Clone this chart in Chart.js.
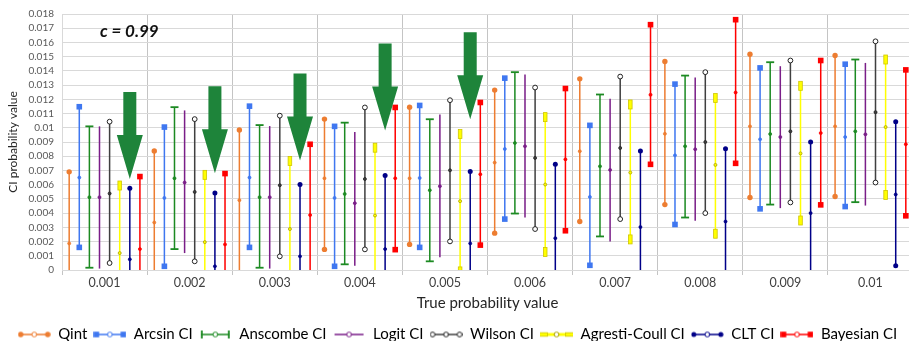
<!DOCTYPE html>
<html>
<head>
<meta charset="utf-8">
<script src="https://cdn.jsdelivr.net/npm/chart.js@4.4.1/dist/chart.umd.min.js"></script>
<style>
  html, body { margin: 0; padding: 0; background: #fff; overflow: hidden; }
  #wrap { width: 914px; height: 352px; position: relative; }
</style>
</head>
<body>
<div id="wrap"><canvas id="ci"></canvas></div>
<script>
// CI 비교 차트 (c = 0.99) — 구간은 floating bar, 끝점/중앙점 마커는 플러그인이 그림

const CATEGORIES = ["0.001", "0.002", "0.003", "0.004", "0.005", "0.006", "0.007", "0.008", "0.009", "0.01"];
const Y_TICK_STEP = 0.001;
const Y_MAX = 0.018;

// 각 방법별 하한 / 중앙 / 상한 (그림에서 읽은 값, 0 아래는 잘려서 안 보임)
const qintLo = [-0.0005, -0.0005, -0.0003, 0.00145, 0.0018, 0.00259, 0.00341, 0.0046, 0.0051, 0.00517];
const qintMid = [0.00187, 0.00334, 0.00491, 0.00645, 0.00645, 0.00755, 0.00835, 0.00958, 0.0101, 0.0101];
const qintHi = [0.0069, 0.00837, 0.00984, 0.01061, 0.01145, 0.01265, 0.01344, 0.01466, 0.01517, 0.01508];

const arcsinLo = [0.00159, 0.00026, 0.00159, 0.00026, 0.00159, 0.00358, 0.00033, 0.0032, 0.0043, 0.00446];
const arcsinMid = [0.0065, 0.00507, 0.0065, 0.00507, 0.00647, 0.00851, 0.00514, 0.00806, 0.00919, 0.00935];
const arcsinHi = [0.01148, 0.01005, 0.01152, 0.0101, 0.01157, 0.01349, 0.01017, 0.01307, 0.01421, 0.01447];

const anscombeLo = [0.00016, 0.00147, 0.00016, 0.0004, 0.00061, 0.00397, 0.00236, 0.00369, 0.0046, 0.00477];
const anscombeMid = [0.00512, 0.00645, 0.00512, 0.00535, 0.00561, 0.00893, 0.00729, 0.0087, 0.00956, 0.00975];
const anscombeHi = [0.0101, 0.01145, 0.01019, 0.01036, 0.0106, 0.01391, 0.01234, 0.01367, 0.01461, 0.0148];

const logitLo = [0.0001, 0.00119, 0.0001, 0.0003, 0.00089, 0.00369, 0.00201, 0.00346, 0.00435, 0.00453];
const logitMid = [0.00512, 0.00615, 0.00512, 0.0047, 0.00589, 0.0087, 0.00704, 0.00849, 0.00935, 0.00954];
const logitHi = [0.0101, 0.01122, 0.01012, 0.0097, 0.01094, 0.01374, 0.01204, 0.01353, 0.01433, 0.01456];

const wilsonLo = [0.00049, 0.00061, 0.00096, 0.00145, 0.00201, 0.00288, 0.00358, 0.004, 0.00475, 0.00615];
const wilsonMid = [0.00538, 0.00549, 0.00596, 0.0064, 0.00701, 0.00788, 0.00858, 0.009, 0.00975, 0.0111];
const wilsonHi = [0.01043, 0.01061, 0.01085, 0.01143, 0.01194, 0.01283, 0.0136, 0.01391, 0.01473, 0.01608];

const agrestiLo = [-0.00356, -0.00277, -0.00191, -0.00094, -0.0001, 0.00126, 0.00215, 0.00255, 0.00348, 0.00528];
const agrestiMid = [0.00119, 0.00196, 0.00288, 0.00383, 0.00484, 0.00601, 0.00685, 0.00739, 0.0082, 0.01005];
const agrestiHi = [0.00594, 0.00669, 0.00767, 0.0086, 0.00956, 0.01075, 0.01164, 0.01209, 0.01295, 0.0148];

const cltLo = [-0.00425, -0.0049, -0.0041, -0.0037, -0.0032, -0.003, -0.0023, -0.0017, -0.001, 0.0003];
const cltMid = [0.00075, 0.00026, 0.00096, 0.00147, 0.00187, 0.00224, 0.00302, 0.00341, 0.004, 0.00531];
const cltHi = [0.00575, 0.00542, 0.00601, 0.00664, 0.00692, 0.00743, 0.00837, 0.00853, 0.009, 0.01043];

const bayesLo = [-0.0002, -0.0002, -0.0002, 0.00143, 0.00175, 0.00276, 0.00743, 0.0075, 0.00458, 0.00381];
const bayesMid = [0.00147, 0.0018, 0.00386, 0.00645, 0.00673, 0.00778, 0.01232, 0.01248, 0.00963, 0.00884];
const bayesHi = [0.00657, 0.00678, 0.00884, 0.01143, 0.01178, 0.01276, 0.01725, 0.0176, 0.01473, 0.01407];

// 화살표 (CLT 구간 위를 가리킴)
const ARROW_CATS = ["0.001", "0.002", "0.003", "0.004", "0.005"];
const ARROW_TIPS = [0.0064, 0.0068, 0.0077, 0.0098, 0.0106];

const SERIES = [
  { label: "Qint", lo: qintLo, mid: qintMid, hi: qintHi, color: "#ED7D31", end: "circle" },
  { label: "Arcsin CI", lo: arcsinLo, mid: arcsinMid, hi: arcsinHi, color: "#3F77F0", end: "square" },
  { label: "Anscombe CI", lo: anscombeLo, mid: anscombeMid, hi: anscombeHi, color: "#1C8A22", end: "cap" },
  { label: "Logit CI", lo: logitLo, mid: logitMid, hi: logitHi, color: "#7A1E88", end: "none" },
  { label: "Wilson CI", lo: wilsonLo, mid: wilsonMid, hi: wilsonHi, color: "#404040", end: "open" },
  { label: "Agresti-Coull CI", lo: agrestiLo, mid: agrestiMid, hi: agrestiHi, color: "#FFFF00", end: "rect" },
  { label: "CLT CI", lo: cltLo, mid: cltMid, hi: cltHi, color: "#000088", end: "dot" },
  { label: "Bayesian CI", lo: bayesLo, mid: bayesMid, hi: bayesHi, color: "#FF0000", end: "square" },
];
const CLT_INDEX = 6;

const FONT = "Lato, 'Open Sans', sans-serif";

// ---------- 마커 ----------
function drawEnd(g, s, x, y, horiz) {
  g.save();
  switch (s.end) {
    case "circle":
      g.fillStyle = s.color;
      g.beginPath(); g.arc(x, y, 2.7, 0, Math.PI * 2); g.fill();
      break;
    case "dot":
      g.fillStyle = s.color;
      g.beginPath(); g.arc(x, y, 2.5, 0, Math.PI * 2); g.fill();
      break;
    case "square":
      g.fillStyle = s.color;
      g.fillRect(x - 2.8, y - 2.8, 5.6, 5.6);
      break;
    case "open":
      g.fillStyle = "#fff"; g.strokeStyle = "#222"; g.lineWidth = 1;
      g.beginPath(); g.arc(x, y, 2.4, 0, Math.PI * 2); g.fill(); g.stroke();
      break;
    case "cap":
      g.strokeStyle = s.color; g.lineWidth = 1.8;
      g.beginPath();
      if (horiz) { g.moveTo(x, y - 4); g.lineTo(x, y + 4); }
      else { g.moveTo(x - 4, y); g.lineTo(x + 4, y); }
      g.stroke();
      break;
    case "rect":
      g.fillStyle = s.color; g.strokeStyle = "#CFC600"; g.lineWidth = 0.8;
      if (horiz) { g.fillRect(x - 4.5, y - 1.8, 9, 3.6); g.strokeRect(x - 4.5, y - 1.8, 9, 3.6); }
      else { g.fillRect(x - 1.8, y - 4.5, 3.6, 9); g.strokeRect(x - 1.8, y - 4.5, 3.6, 9); }
      break;
  }
  g.restore();
}

function drawMid(g, s, x, y, big) {
  g.save();
  const dark = s.end === "rect" ? "#A8A000" : (s.end === "open" ? "#222" : s.color);
  g.fillStyle = big ? "#fff" : s.color;
  g.strokeStyle = dark;
  g.lineWidth = big ? 1 : 0.8;
  g.beginPath(); g.arc(x, y, big ? 2.4 : 1.5, 0, Math.PI * 2);
  g.fill(); g.stroke();
  g.restore();
}

function legendIcon(s) {
  const c = document.createElement("canvas");
  c.width = 33; c.height = 12;
  const g = c.getContext("2d");
  const cy = 6;
  g.strokeStyle = s.color;
  g.lineWidth = s.end === "rect" ? 3 : 1.5;
  g.beginPath(); g.moveTo(2, cy); g.lineTo(31, cy); g.stroke();
  drawEnd(g, s, 3, cy, true);
  drawEnd(g, s, 30, cy, true);
  drawMid(g, s, 16.5, cy, true);
  return c;
}

const markerPlugin = {
  id: "ciMarkers",
  afterDatasetsDraw(chart) {
    const { ctx, chartArea: a, scales: { y } } = chart;
    ctx.save();
    ctx.beginPath();
    ctx.rect(a.left, a.top - 6, a.right - a.left, a.bottom - a.top + 6);
    ctx.clip();
    SERIES.forEach((s, di) => {
      chart.getDatasetMeta(di).data.forEach((bar, i) => {
        drawEnd(ctx, s, bar.x, y.getPixelForValue(s.hi[i]), false);
        drawEnd(ctx, s, bar.x, y.getPixelForValue(s.lo[i]), false);
        drawMid(ctx, s, bar.x, y.getPixelForValue(s.mid[i]), false);
      });
    });
    ctx.restore();
  },
  afterDraw(chart) {
    const { ctx, chartArea: a, scales: { y } } = chart;
    const clt = chart.getDatasetMeta(CLT_INDEX).data;
    ctx.save();
    ctx.fillStyle = "#1E843A";
    ARROW_CATS.forEach((cat, k) => {
      const bar = clt[CATEGORIES.indexOf(cat)];
      const x = bar.x, tip = y.getPixelForValue(ARROW_TIPS[k]);
      ctx.beginPath();
      ctx.moveTo(x - 6.5, tip - 87);
      ctx.lineTo(x + 6.5, tip - 87);
      ctx.lineTo(x + 6.5, tip - 44);
      ctx.lineTo(x + 13, tip - 44);
      ctx.lineTo(x, tip);
      ctx.lineTo(x - 13, tip - 44);
      ctx.lineTo(x - 6.5, tip - 44);
      ctx.closePath();
      ctx.fill();
    });
    ctx.fillStyle = "#111";
    ctx.font = "italic bold 17px " + FONT;
    ctx.textBaseline = "alphabetic";
    ctx.fillText("c = 0.99", a.left + 38, 37);
    ctx.restore();
  },
};

const datasets = SERIES.map((s) => ({
  label: s.label,
  data: s.lo.map((v, i) => [v, s.hi[i]]),
  backgroundColor: s.color,
  borderWidth: 0,
  barPercentage: 0.15,
  categoryPercentage: 0.95,
}));

new Chart(document.getElementById("ci"), {
  type: "bar",
  data: { labels: CATEGORIES, datasets },
  plugins: [markerPlugin],
  options: {
    responsive: true,
    maintainAspectRatio: false,
    animation: false,
    layout: { padding: { top: 12.7, right: 1, left: 2, bottom: 0 } },
    plugins: {
      tooltip: { enabled: false },
      legend: {
        position: "bottom",
        labels: {
          usePointStyle: true,
          pointStyleWidth: 33,
          padding: 6,
          color: "#262626",
          font: { family: FONT, size: 15 },
          generateLabels: () => SERIES.map((s, i) => ({
            text: s.label,
            pointStyle: legendIcon(s),
            fillStyle: "rgba(0,0,0,0)",
            strokeStyle: "rgba(0,0,0,0)",
            lineWidth: 0,
            hidden: false,
            datasetIndex: i,
          })),
        },
      },
    },
    scales: {
      x: {
        grid: { offset: true, color: "#C4C4C4", lineWidth: 1, tickLength: 5 },
        border: { color: "#D9D9D9" },
        ticks: { color: "#404040", font: { family: FONT, size: 12.5 }, padding: 0 },
        title: {
          display: true, text: "True probability value", color: "#262626",
          font: { family: FONT, size: 15 }, padding: { top: 4, bottom: 9 },
        },
      },
      y: {
        min: 0,
        max: Y_MAX,
        afterFit: (scale) => { scale.width = 60; },
        grid: { color: "#D9D9D9", drawTicks: false },
        border: { color: "#D9D9D9" },
        ticks: {
          stepSize: Y_TICK_STEP,
          autoSkip: false,
          padding: 8,
          color: "#595959",
          font: { family: FONT, size: 10 },
          callback: (v) => String(+Number(v).toFixed(3)),
        },
        title: {
          display: true, text: "CI probability value", color: "#262626",
          font: { family: FONT, size: 12 }, padding: { top: 4, bottom: 0 },
        },
      },
    },
  },
});
</script>
</body>
</html>
